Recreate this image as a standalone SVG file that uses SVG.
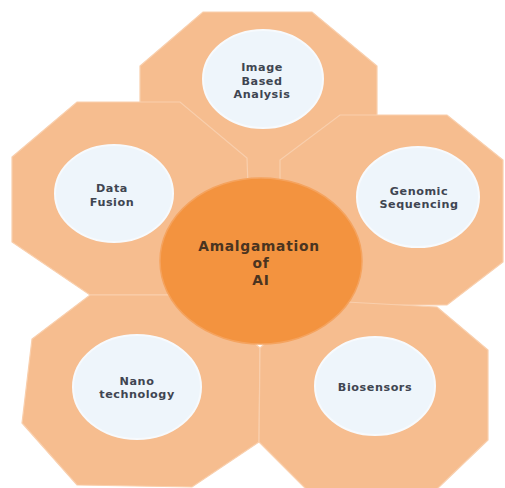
<svg xmlns="http://www.w3.org/2000/svg" width="505" height="488" viewBox="0 0 505 488">
  <style>
    .oct { fill: #f6bd8f; stroke: #f9cfad; stroke-width: 1.2; stroke-linejoin: miter; }
    .hub { fill: #f3933f; stroke: #f5a35e; stroke-width: 1.5; }
    .bubble { fill: #eef5fb; stroke: #f7fafd; stroke-width: 2; }
    .lbl { font-family: "DejaVu Sans", "Liberation Sans", sans-serif; font-weight: bold; font-size: 11.2px; letter-spacing: 0.55px; fill: #3f4551; text-anchor: middle; }
    .hub-lbl { font-family: "DejaVu Sans", "Liberation Sans", sans-serif; font-weight: bold; font-size: 13.8px; letter-spacing: 0.75px; fill: #4a3420; text-anchor: middle; }
  </style>
  <rect width="505" height="488" fill="#ffffff"/>

  <!-- petals: drawn back to front -->
  <g id="image-based-analysis">
    <polygon class="oct" points="203,12 312,12 377,66 377,170 312,225 203,225 140,170 140,66"/>
  </g>
  <g id="data-fusion">
    <polygon class="oct" points="77,102 180,102 247,158 250,242 185,295 90,295 12,242 12,157"/>
  </g>
  <g id="genomic-sequencing">
    <polygon class="oct" points="340,115 447,115 503,160 503,262 447,305 340,305 280,258 280,160"/>
  </g>
  <g id="nano-technology">
    <polygon class="oct" points="90,295 200,295 260,348 259,442 192,487 77,485 22,423 32,339"/>
  </g>
  <g id="biosensors">
    <polygon class="oct" points="310,300 437,307 488,350 488,440 437,489 306,489 259,442 260,348"/>
  </g>

  <!-- hub -->
  <g id="amalgamation-of-ai">
    <ellipse class="hub" cx="261" cy="261" rx="101" ry="83"/>
    <text class="hub-lbl" x="259" y="251">Amalgamation</text>
    <text class="hub-lbl" x="261" y="268">of</text>
    <text class="hub-lbl" x="261" y="285">AI</text>
  </g>

  <!-- labels on the petals -->
  <g id="image-based-analysis-label">
    <ellipse class="bubble" cx="263" cy="79" rx="60" ry="49"/>
    <text class="lbl" x="262" y="71">Image</text>
    <text class="lbl" x="262" y="84.5">Based</text>
    <text class="lbl" x="262" y="98">Analysis</text>
  </g>
  <g id="data-fusion-label">
    <ellipse class="bubble" cx="114" cy="193.5" rx="59" ry="48.5"/>
    <text class="lbl" x="112" y="192">Data</text>
    <text class="lbl" x="112" y="205.5">Fusion</text>
  </g>
  <g id="genomic-sequencing-label">
    <ellipse class="bubble" cx="418" cy="197" rx="61" ry="50"/>
    <text class="lbl" x="419" y="194.5">Genomic</text>
    <text class="lbl" x="419" y="208">Sequencing</text>
  </g>
  <g id="nano-technology-label">
    <ellipse class="bubble" cx="137" cy="387" rx="64" ry="52"/>
    <text class="lbl" x="137" y="384.5">Nano</text>
    <text class="lbl" x="137" y="398">technology</text>
  </g>
  <g id="biosensors-label">
    <ellipse class="bubble" cx="375" cy="386" rx="60" ry="49"/>
    <text class="lbl" x="375" y="391">Biosensors</text>
  </g>
</svg>
